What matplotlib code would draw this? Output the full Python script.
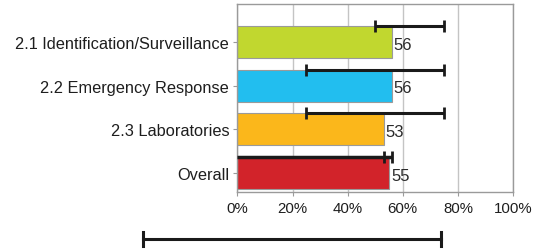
import matplotlib
matplotlib.use("Agg")
import matplotlib.pyplot as plt
from matplotlib.lines import Line2D

plt.rcParams['font.family'] = ['Liberation Sans', 'DejaVu Sans']

categories = ["2.1 Identification/Surveillance", "2.2 Emergency Response",
              "2.3 Laboratories", "Overall"]
values = [56, 56, 53, 55]
err_low = [50, 25, 25, 53]
err_high = [75, 75, 75, 56]
colors = ["#C1D72F", "#22BEEF", "#FBB71B", "#D2232A"]
ticks = [0, 20, 40, 60, 80, 100]

fig = plt.figure(figsize=(5.39, 2.51), dpi=100)
ax = fig.add_axes([0.4406, 0.231, 0.5112, 0.749])

ypos = list(range(len(categories)))
bar_h = 0.73
ax.barh(ypos, values, height=bar_h, color=colors, edgecolor="#9a9a9a",
        linewidth=0.8, zorder=2)

for y, v, lo, hi in zip(ypos, values, err_low, err_high):
    top = y - bar_h / 2
    if categories[y] == "Overall":
        # dark top edge along the overall bar
        ax.plot([0, hi], [top, top], color="#1a1a1a", lw=2.5, zorder=3,
                solid_capstyle="butt")
    ax.errorbar((lo + hi) / 2, top, xerr=(hi - lo) / 2, fmt="none",
                ecolor="#1a1a1a", elinewidth=2.2, capsize=4.2, capthick=2,
                zorder=4)
    ax.text(v + 0.7, y + 0.05, str(v), va="center", ha="left",
            fontsize=12, color="#2a2a2a")

ax.set_xlim(0, 100)
ax.set_ylim(3.435, -0.87)
ax.set_xticks(ticks)
ax.set_xticklabels([f"{t}%" for t in ticks], fontsize=10.8, color="#1e1e1e")
ax.set_yticks(ypos)
ax.set_yticklabels(categories, fontsize=11.8, color="#1e1e1e")
ax.grid(axis="x", color="#c4c4c4", lw=1, zorder=0)
ax.set_axisbelow(True)
for s in ax.spines.values():
    s.set_color("#9a9a9a")
    s.set_linewidth(1)
ax.tick_params(axis="both", color="#9a9a9a", length=3)
ax.tick_params(axis="y", pad=3)

# range key below the chart
fig.add_artist(Line2D([143 / 539, 441 / 539], [11 / 251, 11 / 251],
                      color="#1a1a1a", lw=2.2))
for xk in (143, 441):
    fig.add_artist(Line2D([xk / 539, xk / 539], [4 / 251, 18 / 251],
                          color="#1a1a1a", lw=2.2))

fig.savefig("out.png", dpi=100)
